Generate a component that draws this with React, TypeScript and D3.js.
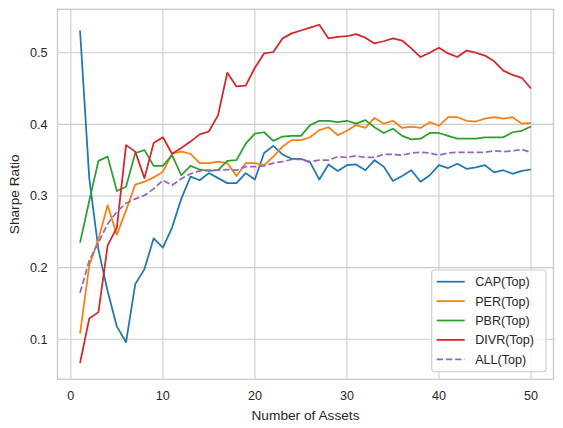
import React from 'react'
import * as d3 from 'd3'

// number of assets 1..50
const assets: number[] = d3.range(1, 51)

const capTop = [
    0.531, 0.325, 0.225, 0.167, 0.118, 0.096, 0.177, 0.198, 0.241, 0.228,
    0.256, 0.296, 0.327, 0.322, 0.332, 0.325, 0.318, 0.318, 0.332, 0.323,
    0.36, 0.37, 0.358, 0.352, 0.352, 0.347, 0.323, 0.344, 0.335, 0.343,
    0.344, 0.336, 0.35, 0.341, 0.321, 0.328, 0.336, 0.32, 0.329, 0.343,
    0.339, 0.345, 0.338, 0.34, 0.343, 0.333, 0.336, 0.331, 0.335, 0.337,
]
const perTop = [
    0.108, 0.203, 0.24, 0.287, 0.246, 0.28, 0.316, 0.32, 0.326, 0.334,
    0.359, 0.362, 0.359, 0.346, 0.346, 0.348, 0.346, 0.328, 0.346, 0.346,
    0.343, 0.355, 0.369, 0.378, 0.378, 0.382, 0.392, 0.396, 0.385, 0.391,
    0.399, 0.395, 0.409, 0.401, 0.405, 0.395, 0.397, 0.395, 0.403, 0.398,
    0.41, 0.41, 0.405, 0.404, 0.408, 0.41, 0.408, 0.41, 0.401, 0.402,
]
const pbrTop = [
    0.235, 0.293, 0.349, 0.355, 0.307, 0.313, 0.36, 0.364, 0.342, 0.342,
    0.357, 0.329, 0.342, 0.337, 0.335, 0.336, 0.349, 0.35, 0.373, 0.387,
    0.389, 0.377, 0.383, 0.384, 0.384, 0.399, 0.405, 0.405, 0.403, 0.405,
    0.401, 0.406, 0.396, 0.388, 0.394, 0.384, 0.379, 0.38, 0.388, 0.388,
    0.384, 0.38, 0.38, 0.38, 0.382, 0.382, 0.382, 0.389, 0.391, 0.397,
]
const divrTop = [
    0.067, 0.129, 0.138, 0.231, 0.256, 0.371, 0.362, 0.325, 0.374, 0.382,
    0.359, 0.367, 0.376, 0.386, 0.39, 0.413, 0.472, 0.453, 0.454, 0.479,
    0.499, 0.501, 0.52, 0.527, 0.531, 0.535, 0.539, 0.52, 0.522, 0.523,
    0.526, 0.521, 0.513, 0.516, 0.52, 0.517, 0.506, 0.494, 0.5, 0.507,
    0.499, 0.494, 0.503, 0.5, 0.496, 0.488, 0.475, 0.469, 0.465, 0.45,
]
const allTop = [
    0.165, 0.21, 0.235, 0.261, 0.278, 0.29, 0.296, 0.301, 0.31, 0.322,
    0.315, 0.324, 0.331, 0.335, 0.336, 0.336, 0.337, 0.336, 0.341, 0.341,
    0.342, 0.346, 0.348, 0.351, 0.351, 0.348, 0.35, 0.35, 0.355, 0.354,
    0.356, 0.354, 0.354, 0.358, 0.358, 0.357, 0.36, 0.361, 0.36, 0.357,
    0.36, 0.361, 0.361, 0.361, 0.361, 0.363, 0.362, 0.363, 0.365, 0.361,
]

const xTicks = [0, 10, 20, 30, 40, 50]
const yTicks = [0.1, 0.2, 0.3, 0.4, 0.5]

interface Series {
    name: string
    values: number[]
    color: string
    dashed?: boolean
}

const series: Series[] = [
    { name: 'CAP(Top)', values: capTop, color: '#1f77b4' },
    { name: 'PER(Top)', values: perTop, color: '#ff7f0e' },
    { name: 'PBR(Top)', values: pbrTop, color: '#2ca02c' },
    { name: 'DIVR(Top)', values: divrTop, color: '#d62728' },
    { name: 'ALL(Top)', values: allTop, color: '#9467bd', dashed: true },
]

const width = 563
const height = 428
const plot = { left: 57.5, right: 553.5, top: 9.3, bottom: 379.3 }
const font = '"Liberation Sans", Arial, sans-serif'
const textColor = '#262626'
const gridColor = '#cccccc'

const App: React.FC = () => {
    const x = d3.scaleLinear().domain([-1.45, 52.45]).range([plot.left, plot.right])
    const y = d3.scaleLinear().domain([0.0442, 0.5606]).range([plot.bottom, plot.top])

    const line = d3
        .line<number>()
        .x((_, i) => x(assets[i]))
        .y((d) => y(d))

    // legend placement (lower right)
    const lg = { left: 431.7, top: 270, width: 114.3, height: 101.7, row: 19.4 }

    return (
        <div>
            <style>{'body{margin:0}'}</style>
            <svg width={width} height={height} style={{ display: 'block', background: '#fff' }}>
                {/* grid */}
                {xTicks.map((t) => (
                    <line key={'gx' + t} x1={x(t)} x2={x(t)} y1={plot.top} y2={plot.bottom}
                        stroke={gridColor} strokeWidth={1.1} />
                ))}
                {yTicks.map((t) => (
                    <line key={'gy' + t} x1={plot.left} x2={plot.right} y1={y(t)} y2={y(t)}
                        stroke={gridColor} strokeWidth={1.1} />
                ))}

                {/* series */}
                {series.map((s) => (
                    <path key={s.name} d={line(s.values) || ''} fill="none" stroke={s.color}
                        strokeWidth={1.75} strokeLinejoin="round" strokeLinecap="butt"
                        strokeDasharray={s.dashed ? '6.4 2.8' : undefined} />
                ))}

                {/* spines */}
                <rect x={plot.left} y={plot.top} width={plot.right - plot.left}
                    height={plot.bottom - plot.top} fill="none" stroke={gridColor} strokeWidth={1.4} />

                {/* tick labels */}
                {xTicks.map((t) => (
                    <text key={'tx' + t} x={x(t)} y={400} textAnchor="middle" fontFamily={font}
                        fontSize={12.6} fill={textColor}>{t}</text>
                ))}
                {yTicks.map((t) => (
                    <text key={'ty' + t} x={47.5} y={y(t)} dy="0.35em" textAnchor="end" fontFamily={font}
                        fontSize={12.6} fill={textColor}>{d3.format('.1f')(t)}</text>
                ))}

                {/* axis labels */}
                <text x={(plot.left + plot.right) / 2} y={419.5} textAnchor="middle" fontFamily={font}
                    fontSize={13.7} fill={textColor}>Number of Assets</text>
                <text transform={`translate(18.5,${(plot.top + plot.bottom) / 2}) rotate(-90)`}
                    textAnchor="middle" fontFamily={font} fontSize={13.7} fill={textColor}>Sharpe Ratio</text>

                {/* legend */}
                <rect x={lg.left} y={lg.top} width={lg.width} height={lg.height} rx={3}
                    fill="#ffffff" fillOpacity={0.8} stroke={gridColor} strokeWidth={1.1} />
                {series.map((s, i) => {
                    const cy = lg.top + 11.7 + i * lg.row
                    return (
                        <g key={'lg' + s.name}>
                            <line x1={lg.left + 5} x2={lg.left + 33} y1={cy} y2={cy} stroke={s.color}
                                strokeWidth={1.75} strokeDasharray={s.dashed ? '6.4 2.8' : undefined} />
                            <text x={lg.left + 43.5} y={cy} dy="0.35em" fontFamily={font} fontSize={12.6}
                                fill={textColor}>{s.name}</text>
                        </g>
                    )
                })}
            </svg>
        </div>
    )
}

export default App
